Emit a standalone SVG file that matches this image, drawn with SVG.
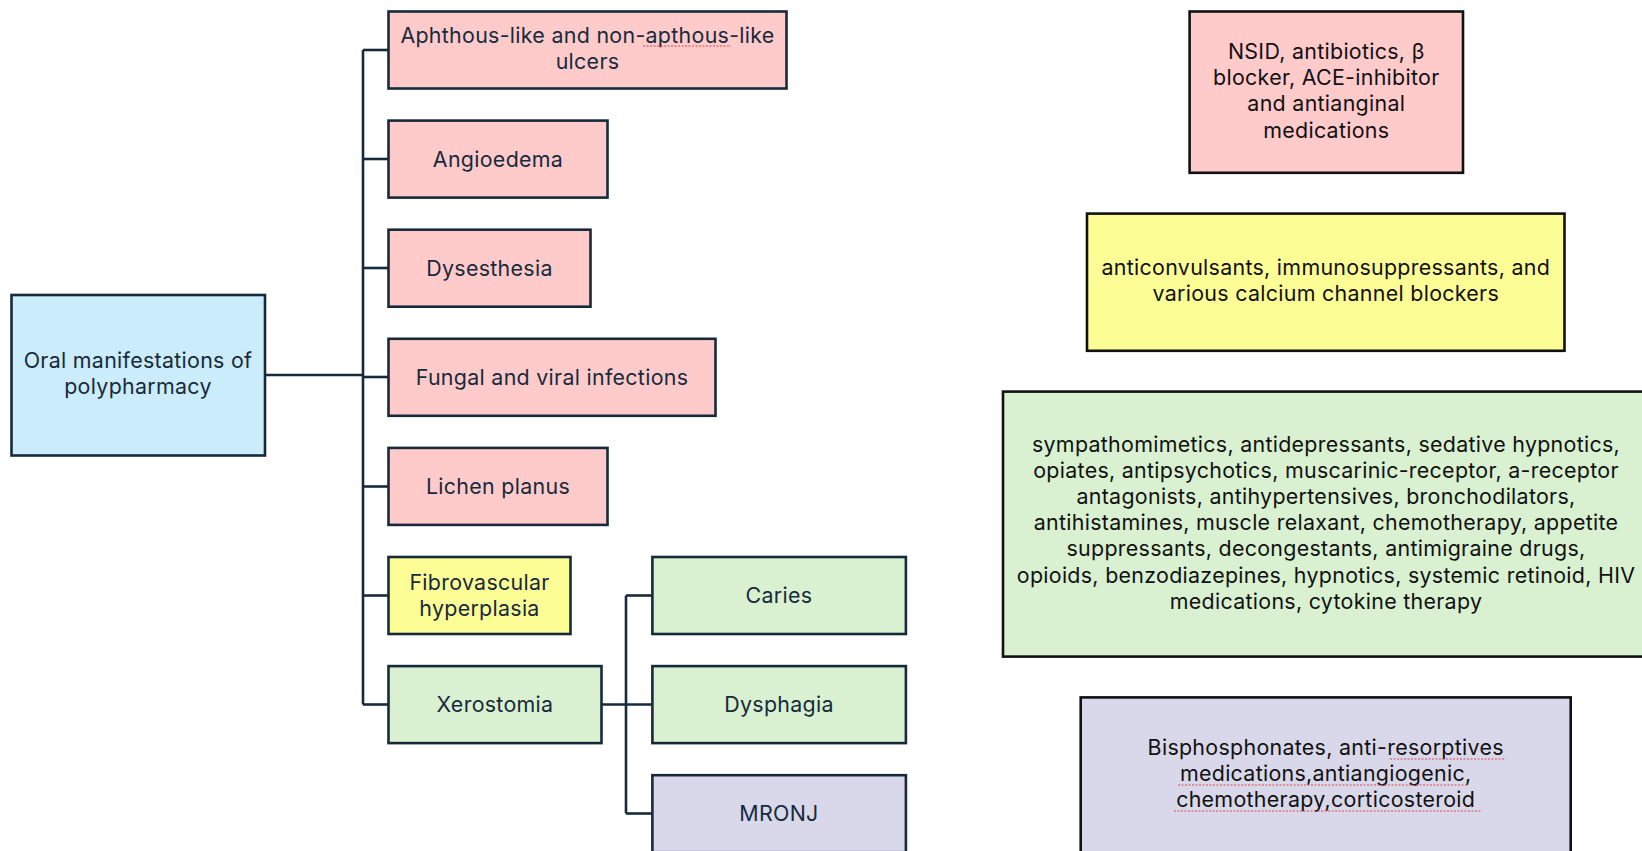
<svg xmlns="http://www.w3.org/2000/svg" width="1642" height="851" viewBox="0 0 1642 851">
<style>
  .nl { stroke: #172a3c; stroke-width: 2.6; }
  .nr { stroke: #111; stroke-width: 2.6; }
  .pink { fill: #ffcaca; }
  .blue { fill: #caecfb; }
  .yellow { fill: #fdfd96; }
  .green { fill: #d9f1d0; }
  .purple { fill: #d9d8ea; }
  text { font-family: Inter, "Open Sans", "Liberation Sans", sans-serif; font-size: 21.4px; letter-spacing: 0.3px; text-anchor: middle; }
  .tl { fill: #172a3c; }
  .tr { fill: #111; }
  .sq { fill: none; stroke: #e04848; stroke-width: 1.2; stroke-dasharray: 2 1.5; }
  .conn { fill: none; stroke: #172a3c; stroke-width: 2.6; }
</style>
<rect width="1642" height="851" fill="#ffffff"/>
<g id="connectors">
  <line class="conn" x1="265" y1="375" x2="363" y2="375"/>
  <line class="conn" x1="363" y1="50" x2="363" y2="704.5"/>
  <line class="conn" x1="363" y1="50" x2="388.5" y2="50"/>
  <line class="conn" x1="363" y1="159" x2="388.5" y2="159"/>
  <line class="conn" x1="363" y1="268" x2="388.5" y2="268"/>
  <line class="conn" x1="363" y1="377" x2="388.5" y2="377"/>
  <line class="conn" x1="363" y1="486.5" x2="388.5" y2="486.5"/>
  <line class="conn" x1="363" y1="595.5" x2="388.5" y2="595.5"/>
  <line class="conn" x1="363" y1="704.5" x2="388.5" y2="704.5"/>
  <line class="conn" x1="601.5" y1="704.5" x2="652.4" y2="704.5"/>
  <line class="conn" x1="626" y1="595.5" x2="626" y2="813.5"/>
  <line class="conn" x1="626" y1="595.5" x2="652.4" y2="595.5"/>
  <line class="conn" x1="626" y1="813.5" x2="652.4" y2="813.5"/>
</g>
<g id="root">
  <rect class="nl blue" x="11.5" y="295" width="253.5" height="160.5"/>
  <text class="tl" x="138" y="368">Oral manifestations of</text>
  <text class="tl" x="138" y="394">polypharmacy</text>
</g>
<g id="aphthous">
  <rect class="nl pink" x="388.5" y="11.5" width="398" height="77"/>
  <text class="tl" x="587.5" y="43">Aphthous-like and non-apthous-like</text>
  <text class="tl" x="587.5" y="69">ulcers</text>
  <line class="sq" x1="643" y1="46" x2="731" y2="46"/>
</g>
<g id="angioedema">
  <rect class="nl pink" x="388.5" y="120.6" width="219" height="77"/>
  <text class="tl" x="498" y="166.5">Angioedema</text>
</g>
<g id="dysesthesia">
  <rect class="nl pink" x="388.5" y="229.7" width="202" height="77"/>
  <text class="tl" x="489.5" y="275.5">Dysesthesia</text>
</g>
<g id="fungal">
  <rect class="nl pink" x="388.5" y="338.8" width="327" height="77"/>
  <text class="tl" x="552" y="384.5">Fungal and viral infections</text>
</g>
<g id="lichen">
  <rect class="nl pink" x="388.5" y="447.9" width="219" height="77"/>
  <text class="tl" x="498" y="494">Lichen planus</text>
</g>
<g id="fibrovascular">
  <rect class="nl yellow" x="388.5" y="557" width="182" height="77"/>
  <text class="tl" x="479.5" y="589.5">Fibrovascular</text>
  <text class="tl" x="479.5" y="615.5">hyperplasia</text>
</g>
<g id="xerostomia">
  <rect class="nl green" x="388.5" y="666.1" width="213" height="77"/>
  <text class="tl" x="495" y="712">Xerostomia</text>
</g>
<g id="caries">
  <rect class="nl green" x="652.4" y="557" width="253.5" height="77"/>
  <text class="tl" x="779" y="603">Caries</text>
</g>
<g id="dysphagia">
  <rect class="nl green" x="652.4" y="666.1" width="253.5" height="77"/>
  <text class="tl" x="779" y="712">Dysphagia</text>
</g>
<g id="mronj">
  <rect class="nl purple" x="652.4" y="775.2" width="253.5" height="77"/>
  <text class="tl" x="779" y="821">MRONJ</text>
</g>
<g id="drugs-ulcers">
  <rect class="nr pink" x="1189.6" y="11.5" width="273.4" height="161.3"/>
  <text class="tr" x="1326.3" y="59">NSID, antibiotics, β</text>
  <text class="tr" x="1326.3" y="85.2">blocker, ACE-inhibitor</text>
  <text class="tr" x="1326.3" y="111.4">and antianginal</text>
  <text class="tr" x="1326.3" y="137.6">medications</text>
</g>
<g id="drugs-fibro">
  <rect class="nr yellow" x="1087" y="213.6" width="477.5" height="137.2"/>
  <text class="tr" x="1325.8" y="274.5">anticonvulsants, immunosuppressants, and</text>
  <text class="tr" x="1325.8" y="300.7">various calcium channel blockers</text>
</g>
<g id="drugs-xerostomia">
  <rect class="nr green" x="1003" y="391.6" width="646" height="265"/>
  <text class="tr" x="1326" y="451.5">sympathomimetics, antidepressants, sedative hypnotics,</text>
  <text class="tr" x="1326" y="477.7">opiates, antipsychotics, muscarinic-receptor, a-receptor</text>
  <text class="tr" x="1326" y="503.9">antagonists, antihypertensives, bronchodilators,</text>
  <text class="tr" x="1326" y="530.1">antihistamines, muscle relaxant, chemotherapy, appetite</text>
  <text class="tr" x="1326" y="556.3">suppressants, decongestants, antimigraine drugs,</text>
  <text class="tr" x="1326" y="582.5">opioids, benzodiazepines, hypnotics, systemic retinoid, HIV</text>
  <text class="tr" x="1326" y="608.7">medications, cytokine therapy</text>
</g>
<g id="drugs-mronj">
  <rect class="nr purple" x="1080.7" y="697.4" width="490" height="160"/>
  <text class="tr" x="1325.7" y="755">Bisphosphonates, anti-resorptives</text>
  <text class="tr" x="1325.7" y="781.2">medications,antiangiogenic,</text>
  <text class="tr" x="1325.7" y="807.3">chemotherapy,corticosteroid</text>
  <line class="sq" x1="1390" y1="759" x2="1506" y2="759"/>
  <line class="sq" x1="1178" y1="785" x2="1467" y2="785"/>
  <line class="sq" x1="1174" y1="811" x2="1481" y2="811"/>
</g>
</svg>
